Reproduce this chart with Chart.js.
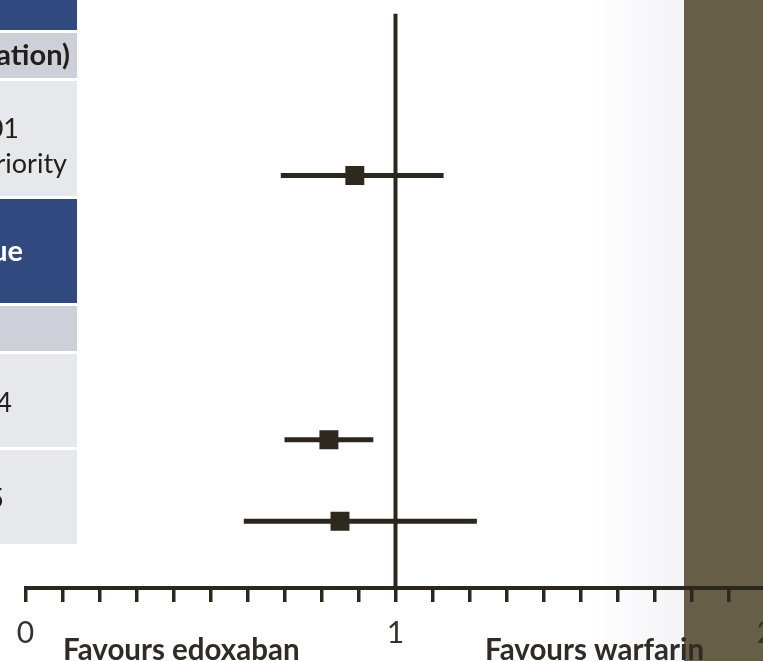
<!DOCTYPE html>
<html>
<head>
<meta charset="utf-8">
<script src="https://cdn.jsdelivr.net/npm/chart.js@4/dist/chart.umd.min.js"></script>
<style>
  html, body { margin: 0; padding: 0; overflow: hidden; background: #ffffff; }
  #wrap { position: relative; width: 800px; height: 661px; }
</style>
</head>
<body>
<div id="wrap"><canvas id="forest"></canvas></div>
<script>
// Edoxaban vs warfarin outcomes: hazard ratio with 95% CI
const outcomes    = ['Recurrent VTE', 'Major or clinically relevant bleeding', 'Major bleeding'];
const hazardRatio = [0.89, 0.82, 0.85];
const ciLower     = [0.69, 0.70, 0.59];
const ciUpper     = [1.13, 0.94, 1.22];
const axisLabels  = ['0', '1', '2'];
const favourText  = ['Favours edoxaban', 'Favours warfarin'];

// Table text at the left edge of the slide
const tableText = {
  efficacyHead: 'Primary efficacy outcome (overall study duration)',
  efficacyP:    ['p<0.001', 'for non-inferiority'],
  pHead:        'p-value',
  safetyP:      ['0.004', '0.35']
};

// ---- layout ----
const INK = '#2b271f';
const rowSlot = [28.2, 74.2, 88.4];       // vertical slot of each outcome (0 = top, 100 = axis)
const BAND_X = 684;                       // left edge of the slide's side band
const CELL_R = 77;                        // right edge of table cells
const FONT = 'Lato, "Open Sans", sans-serif';

const slidePlugin = {
  id: 'slide',
  beforeDraw(chart) {
    const { ctx, width, height } = chart;
    ctx.save();
    ctx.fillStyle = '#ffffff';
    ctx.fillRect(0, 0, width, height);
    const g = ctx.createLinearGradient(BAND_X - 100, 0, BAND_X, 0);
    g.addColorStop(0, 'rgba(244,244,247,0)');
    g.addColorStop(1, 'rgba(244,244,247,1)');
    ctx.fillStyle = g;
    ctx.fillRect(BAND_X - 100, 0, 100, height);
    ctx.fillStyle = '#675e47';
    ctx.fillRect(BAND_X, 0, width - BAND_X, height);

    // table cells [top, bottom, fill]
    const cells = [
      [-2, 30, '#30497e'],
      [33, 78, '#cdd0d9'],
      [81, 196, '#e7e8ec'],
      [199, 303, '#30497e'],
      [306, 351, '#cdd0d9'],
      [354, 447, '#e7e8ec'],
      [450, 544, '#e7e8ec']
    ];
    cells.forEach(([t, b, c]) => { ctx.fillStyle = c; ctx.fillRect(-10, t, CELL_R + 10, b - t); });

    ctx.textBaseline = 'middle';
    ctx.textAlign = 'right';
    ctx.fillStyle = '#221e19';
    ctx.font = 'bold 29px ' + FONT;
    ctx.fillText(tableText.efficacyHead, 70, 56);
    ctx.font = '27px ' + FONT;
    ctx.fillText(tableText.efficacyP[0], 19, 129);
    ctx.fillText(tableText.efficacyP[1], 67, 164);
    ctx.fillStyle = '#ffffff';
    ctx.font = 'bold 29px ' + FONT;
    ctx.fillText(tableText.pHead, 23, 252);
    ctx.fillStyle = '#221e19';
    ctx.font = '27px ' + FONT;
    ctx.fillText(tableText.safetyP[0], 12, 403);
    ctx.fillText(tableText.safetyP[1], 4, 499);
    ctx.restore();
  },
  afterDraw(chart) {
    const { ctx } = chart;
    ctx.save();
    ctx.fillStyle = '#302b24';
    ctx.font = 'bold 29.5px ' + FONT;
    ctx.textAlign = 'left';
    ctx.textBaseline = 'alphabetic';
    ctx.fillText(favourText[0], 63, 660);
    ctx.fillText(favourText[1], 485, 660);
    ctx.restore();
  }
};

const ciSets = outcomes.map((name, i) => ({
  type: 'line',
  label: name + ' 95% CI',
  data: [{ x: ciLower[i], y: rowSlot[i] }, { x: ciUpper[i], y: rowSlot[i] }],
  borderColor: INK,
  borderWidth: 5,
  pointRadius: 0,
  borderCapStyle: 'butt'
}));

new Chart(document.getElementById('forest'), {
  type: 'scatter',
  data: {
    datasets: [
      {
        label: 'Hazard ratio',
        data: outcomes.map((_, i) => ({ x: hazardRatio[i], y: rowSlot[i] })),
        pointStyle: 'rect',
        pointRadius: 13.4,
        pointHoverRadius: 13.4,
        backgroundColor: '#2d291f',
        borderWidth: 0
      },
      ...ciSets,
      {
        type: 'line',
        label: 'No difference',
        data: [{ x: 1, y: 0 }, { x: 1, y: 100 }],
        borderColor: INK,
        borderWidth: 4,
        pointRadius: 0,
        borderCapStyle: 'butt'
      }
    ]
  },
  options: {
    responsive: true,
    maintainAspectRatio: false,
    animation: false,
    events: [],
    layout: { padding: { top: 11, left: 25.5, right: 34.5, bottom: 0 } },
    plugins: { legend: { display: false }, tooltip: { enabled: false } },
    scales: {
      x: {
        type: 'linear',
        min: 0,
        max: 2,
        afterFit(scale) { scale.height = 73; scale.paddingLeft = 0; scale.paddingRight = 0; },
        border: { display: true, color: INK, width: 4 },
        grid: { drawOnChartArea: false, drawTicks: true, tickLength: 14, lineWidth: 3.5, color: INK },
        ticks: {
          stepSize: 0.1,
          autoSkip: false,
          maxRotation: 0,
          padding: 13,
          color: '#35312b',
          font: { family: FONT, size: 30 },
          callback(v) {
            const r = Math.round(v);
            return Math.abs(v - r) < 1e-6 ? axisLabels[r] : '';
          }
        }
      },
      y: { type: 'linear', min: 0, max: 100, reverse: true, display: false }
    }
  },
  plugins: [slidePlugin]
});
</script>
</body>
</html>
